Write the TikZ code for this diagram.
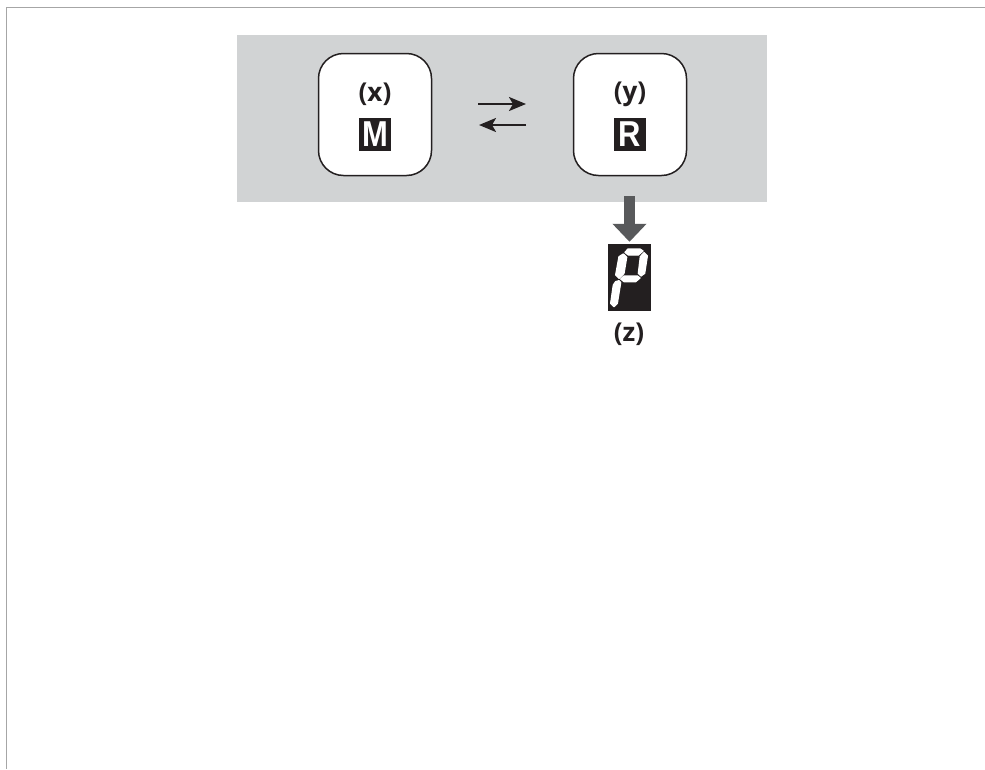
\documentclass[tikz,border=0pt]{standalone}
\usepackage{fontspec}
\setmainfont{Open Sans}
\newfontfamily\keyfont{Liberation Sans}
\usetikzlibrary{arrows.meta}
\definecolor{panelgray}{HTML}{D1D3D4}
\definecolor{arrowgray}{HTML}{58595B}
\definecolor{inkblack}{HTML}{231F20}
\tikzset{
	statebox/.style={draw=inkblack, line width=1.5pt, fill=white, rounded corners=25pt, minimum width=113pt, minimum height=122pt},
	tag/.style={text=inkblack, font=\fontsize{26}{26}\selectfont\bfseries, inner sep=0pt},
	keycap/.style={fill=inkblack, minimum width=32pt, minimum height=33pt, inner sep=0pt},
	keytext/.style={text=white, font=\fontsize{36}{36}\keyfont\bfseries, inner sep=0pt, xscale=0.86},
	thinarrow/.style={draw=inkblack, line width=2.3pt, -{Stealth[length=17pt,width=14pt,inset=4pt]}},
	segment/.style={fill=white, draw=white, line width=1.3pt, line join=round}
}
\begin{document}
\begin{tikzpicture}[x=1pt,y=-1pt]
	\useasboundingbox (0,0) rectangle (985,769);
	% page frame
	\draw[gray!70, line width=1.2pt] (985,7.5) -- (6.5,7.5) -- (6.5,769);
	\fill[panelgray] (237,35) rectangle (767,202);
	% states
	\node[statebox] (xbox) at (375,114.5) {};
	\node[statebox] (ybox) at (630,114.5) {};
	\node[tag] (xtag) at (375,94) {(x)};
	\node[tag] (ytag) at (630,94) {(y)};
	\node[keycap] (mkey) at (375,134.5) {};
	\node[keycap] (rkey) at (630,134.5) {};
	\node[keytext] (mtext) at (mkey) {M};
	\node[keytext] (rtext) at (rkey) {R};
	% exchange arrows
	\coordinate (ca) at (478,104);
	\coordinate (cb) at (526,104);
	\coordinate (cc) at (526,125);
	\coordinate (cd) at (479,125);
	\draw[thinarrow] (ca) -- (cb);
	\draw[thinarrow] (cc) -- (cd);
	% display
	\node[fill=inkblack, minimum width=43pt, minimum height=67pt, inner sep=0pt] (pbox) at (629.5,277.5) {};
	\coordinate (cout) at (629.5,196);
	\draw[arrowgray, line width=11pt, shorten >=2pt, -{Triangle[length=18pt,width=33pt]}] (cout) -- (pbox.north);
	\begin{scope}[shift={(604,240)},x=0.3333pt,y=-0.3333pt]
		\fill[segment] (63,37) -- (72,27) -- (108,27) -- (117,33) -- (103,45) -- (73,45) -- cycle;
		\fill[segment] (120,38) -- (130,48) -- (122,100) -- (111,108) -- (103,100) -- (109,50) -- cycle;
		\fill[segment] (50,117) -- (60,108) -- (100,108) -- (108,114) -- (95,125) -- (60,125) -- cycle;
		\fill[segment] (58,42) -- (68,52) -- (60,100) -- (45,115) -- (35,105) -- (45,50) -- cycle;
		\fill[segment] (35,125) -- (45,122) -- (50,128) -- (40,190) -- (30,200) -- (20,190) -- (28,135) -- cycle;
	\end{scope}
	\node[tag] (ztag) at (629,334) {(z)};
\end{tikzpicture}
\end{document}
